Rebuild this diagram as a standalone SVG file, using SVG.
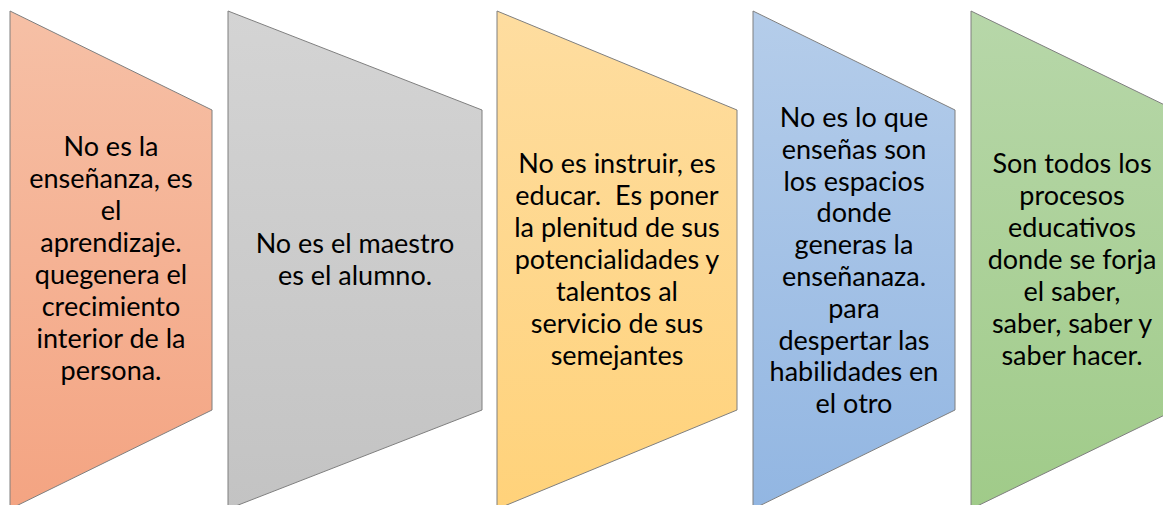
<svg xmlns="http://www.w3.org/2000/svg" width="1163" height="505" viewBox="0 0 1163 505">
<style>
.s{stroke:#7f7f7f;stroke-width:1}
.t{font-family:Lato,"Open Sans","Liberation Sans",sans-serif;font-size:27px;fill:#000;text-anchor:middle}
</style>
<defs>
<linearGradient id="g1" x1="0" y1="0" x2="0" y2="1"><stop offset="0" stop-color="#f6c0a6"/><stop offset="1" stop-color="#f4a482"/></linearGradient>
<linearGradient id="g2" x1="0" y1="0" x2="0" y2="1"><stop offset="0" stop-color="#d4d4d4"/><stop offset="1" stop-color="#c3c3c3"/></linearGradient>
<linearGradient id="g3" x1="0" y1="0" x2="0" y2="1"><stop offset="0" stop-color="#fedda0"/><stop offset="1" stop-color="#ffd27a"/></linearGradient>
<linearGradient id="g4" x1="0" y1="0" x2="0" y2="1"><stop offset="0" stop-color="#b5cdea"/><stop offset="1" stop-color="#92b6e2"/></linearGradient>
<linearGradient id="g5" x1="0" y1="0" x2="0" y2="1"><stop offset="0" stop-color="#b7d7a9"/><stop offset="1" stop-color="#a0cb89"/></linearGradient>
</defs>
<g id="node1">
<polygon class="s" fill="url(#g1)" points="10,11 212,110 212,410 10,509"/>
<text class="t"><tspan x="111" y="156">No es la</tspan><tspan x="111" y="188">enseñanza, es</tspan><tspan x="111" y="220">el</tspan><tspan x="111" y="252">aprendizaje.</tspan><tspan x="111" y="284">quegenera el</tspan><tspan x="111" y="316">crecimiento</tspan><tspan x="111" y="348">interior de la</tspan><tspan x="111" y="380">persona.</tspan></text>
</g>
<g id="node2">
<polygon class="s" fill="url(#g2)" points="228,11 482,110 482,410 228,509"/>
<text class="t"><tspan x="355" y="253">No es el maestro</tspan><tspan x="355" y="285">es el alumno.</tspan></text>
</g>
<g id="node3">
<polygon class="s" fill="url(#g3)" points="497,11 737,110 737,410 497,509"/>
<text class="t" xml:space="preserve"><tspan x="617" y="173">No es instruir, es</tspan><tspan x="617" y="205">educar.  Es poner</tspan><tspan x="617" y="237">la plenitud de sus</tspan><tspan x="617" y="269">potencialidades y</tspan><tspan x="617" y="301">talentos al</tspan><tspan x="617" y="333">servicio de sus</tspan><tspan x="617" y="365">semejantes</tspan></text>
</g>
<g id="node4">
<polygon class="s" fill="url(#g4)" points="753,11 955,110 955,410 753,509"/>
<text class="t"><tspan x="854" y="127">No es lo que</tspan><tspan x="854" y="159">enseñas son</tspan><tspan x="854" y="191">los espacios</tspan><tspan x="854" y="222">donde</tspan><tspan x="854" y="254">generas la</tspan><tspan x="854" y="286">enseñanaza.</tspan><tspan x="854" y="318">para</tspan><tspan x="854" y="350">despertar las</tspan><tspan x="854" y="381">habilidades en</tspan><tspan x="854" y="413">el otro</tspan></text>
</g>
<g id="node5">
<polygon class="s" fill="url(#g5)" points="971,11 1175,110 1175,410 971,509"/>
<text class="t"><tspan x="1072" y="173">Son todos los</tspan><tspan x="1072" y="205">procesos</tspan><tspan x="1072" y="237">educativos</tspan><tspan x="1072" y="269">donde se forja</tspan><tspan x="1072" y="301">el saber,</tspan><tspan x="1072" y="333">saber, saber y</tspan><tspan x="1072" y="365">saber hacer.</tspan></text>
</g>
<g id="connectors"></g>
</svg>
